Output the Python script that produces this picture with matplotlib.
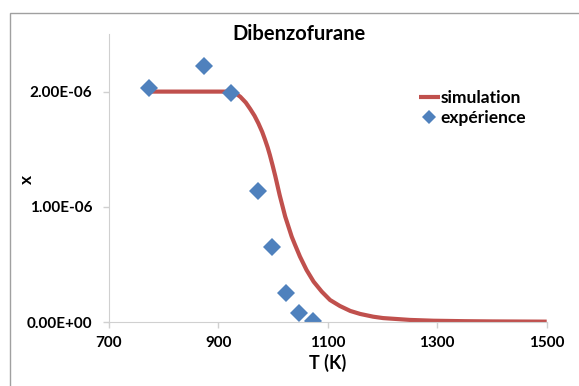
import matplotlib.pyplot as plt
from matplotlib.ticker import FuncFormatter
from matplotlib.patches import Rectangle

plt.rcParams['font.family'] = ['Lato', 'DejaVu Sans']
plt.rcParams['font.weight'] = 'bold'

# --- data ---
t_exp = [773, 873, 923, 973, 998, 1023, 1048, 1073]
x_exp = [2.03e-6, 2.22e-6, 1.99e-6, 1.14e-6, 0.65e-6, 0.25e-6, 0.076e-6, 0.011e-6]

t_sim = [773, 866, 921, 930, 940, 950, 958, 966, 973, 980, 985, 990, 994, 999, 1004,
         1012, 1022, 1034, 1040, 1049, 1061, 1074, 1089, 1104, 1122, 1141, 1159,
         1183, 1201, 1250, 1293, 1350, 1400, 1500]
x_sim = [2.0, 2.0, 2.0, 1.99, 1.955, 1.905, 1.85, 1.79, 1.725, 1.65, 1.585, 1.515,
         1.45, 1.36, 1.265, 1.10, 0.916, 0.74, 0.67, 0.568, 0.452, 0.35, 0.263,
         0.191, 0.139, 0.096, 0.07, 0.046, 0.034, 0.018, 0.011, 0.007, 0.005, 0.003]
x_sim = [v * 1e-6 for v in x_sim]

x_ticks = [700, 900, 1100, 1300, 1500]
y_ticks = [0, 1e-6, 2e-6]

fig = plt.figure(figsize=(5.79, 3.86), dpi=100)
ax = fig.add_axes([109 / 579, 1 - 322 / 386, (546.7 - 109) / 579, (322 - 34) / 386])

ax.plot(t_sim, x_sim, color='#C0504D', lw=3, label='simulation',
        solid_capstyle='butt', solid_joinstyle='round')
ax.plot(t_exp, x_exp, 'D', color='#4F81BD', ms=9, mew=0, label='expérience')

ax.set_xlim(700, 1500)
ax.set_ylim(0, 2.5e-6)
ax.set_xticks(x_ticks)
ax.set_yticks(y_ticks)
ax.yaxis.set_major_formatter(FuncFormatter(lambda v, p: f'{v:.2E}'))
ax.tick_params(axis='both', labelsize=11, colors='#d0d0d0', labelcolor='black', length=4, width=1)
ax.tick_params(axis='x', pad=6)
ax.tick_params(axis='y', pad=8)
for lab in ax.get_xticklabels() + ax.get_yticklabels():
    lab.set_fontweight('bold')

for s in ['top', 'right']:
    ax.spines[s].set_visible(False)
for s in ['left', 'bottom']:
    ax.spines[s].set_color('#d0d0d0')

fig.text(328 / 579, 1 - 363 / 386, 'T (K)', ha='center', va='center', fontsize=13, fontweight='bold')
fig.text(27 / 579, 1 - 179 / 386, 'x', ha='center', va='center', rotation=90, fontsize=12.5, fontweight='bold')
fig.text(299 / 579, 1 - 34 / 386, 'Dibenzofurane', ha='center', va='center', fontsize=14.5, fontweight='bold')

leg = ax.legend(loc='upper left', bbox_to_anchor=(410 / 579, 1 - 81 / 386),
                bbox_transform=fig.transFigure, frameon=False, fontsize=12.5,
                handlelength=1.2, handletextpad=0.05, labelspacing=0.25, borderpad=0,
                markerscale=0.75)

# outer chart frame
fig.patches.append(Rectangle((9.5 / 579, -0.1), 1.2, 1 - 13.3 / 386 + 0.1,
                             transform=fig.transFigure, fill=False, ec='#a0a0a0', lw=1))

plt.savefig('out.png', dpi=100)
plt.close()
